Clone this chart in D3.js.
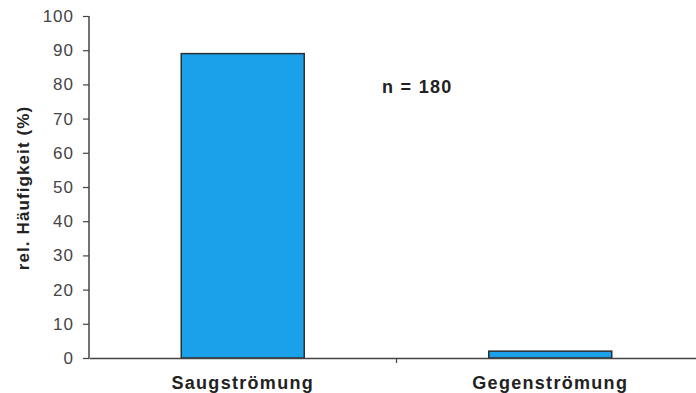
<!DOCTYPE html>
<html><head><meta charset="utf-8">
<script src="https://cdn.jsdelivr.net/npm/d3@7"></script>
<style>body{margin:0;background:#fff}svg{display:block}</style>
</head><body>
<svg id="c" width="696" height="393"></svg>
<script>
const categories = ["Saugströmung", "Gegenströmung"];
const values = [89, 2];
const yTicks = [0,10,20,30,40,50,60,70,80,90,100];
const yTitle = "rel. Häufigkeit (%)";
const note = "n = 180";

const svg = d3.select("#c");
const x0 = 89, x1 = 704, yTop = 16, yBot = 358;
const x = d3.scaleBand().domain(categories).range([x0, x1]).paddingInner(0.6).paddingOuter(0.3);
const y = d3.scaleLinear().domain([0, 100]).range([yBot, yTop]);
const font = "Liberation Sans, Arial, sans-serif";

svg.selectAll("rect.bar").data(categories).join("rect")
  .attr("x", d => x(d)).attr("width", x.bandwidth())
  .attr("y", (d,i) => y(values[i])).attr("height", (d,i) => y(0) - y(values[i]))
  .attr("fill", "#1ba1ea").attr("stroke", "#2b2f33").attr("stroke-width", 1.5);

const ya = svg.append("g").attr("transform", `translate(${x0},0)`)
  .call(d3.axisLeft(y).tickValues(yTicks).tickSize(6).tickPadding(9));
ya.select(".domain").attr("stroke", "#444").attr("stroke-width", 1.5).attr("d", `M-0,${yTop}V${yBot}`);
ya.selectAll(".tick line").attr("stroke", "#444").attr("stroke-width", 1.2);
ya.selectAll("text").attr("font-family", font).attr("font-size", 17).attr("letter-spacing", 1).attr("fill", "#444");

const xa = svg.append("g").attr("transform", `translate(0,${yBot})`)
  .call(d3.axisBottom(x).tickSize(0).tickPadding(0));
xa.select(".domain").attr("stroke", "#444").attr("stroke-width", 1.5);
xa.selectAll(".tick text").attr("dy", 0).attr("y", 31).attr("font-family", font).attr("font-size", 18).attr("letter-spacing", 1.3).attr("font-weight", "bold").attr("fill", "#222");
// tick between categories
svg.append("line").attr("x1", x0 + x.step()).attr("x2", x0 + x.step())
  .attr("y1", yBot).attr("y2", yBot + 5).attr("stroke", "#444").attr("stroke-width", 1.2);

svg.append("text").attr("transform", `translate(29,${(yTop+yBot)/2 + 1}) rotate(-90)`)
  .attr("text-anchor", "middle").attr("font-family", font).attr("font-size", 17).attr("letter-spacing", 1.1).attr("font-weight", "bold").attr("fill", "#222")
  .text(yTitle);

svg.append("text").attr("x", 382).attr("y", 93).attr("font-family", font).attr("font-size", 18).attr("letter-spacing", 1.3).attr("font-weight", "bold").attr("fill", "#222").text(note);
</script>
</body></html>
